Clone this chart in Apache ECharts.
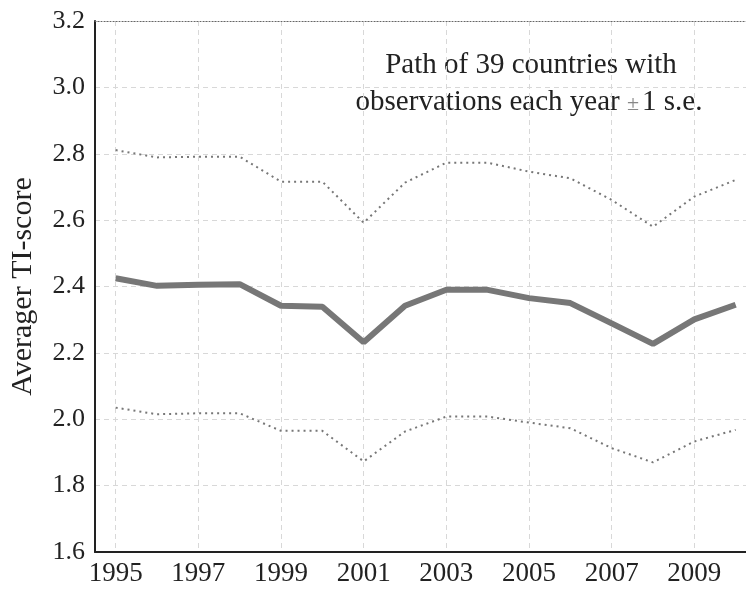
<!DOCTYPE html>
<html>
<head>
<meta charset="utf-8">
<script src="https://cdn.jsdelivr.net/npm/echarts@6/dist/echarts.min.js"></script>
<style>
  html, body { margin: 0; padding: 0; background: #fff; }
  #chart { width: 746px; height: 591px; }
</style>
</head>
<body>
<div id="chart"></div>
<script>
const years = [1995, 1996, 1997, 1998, 1999, 2000, 2001, 2002, 2003, 2004, 2005, 2006, 2007, 2008, 2009, 2010];
const meanScore = [2.425, 2.402, 2.405, 2.407, 2.342, 2.339, 2.232, 2.342, 2.390, 2.390, 2.365, 2.350, 2.289, 2.227, 2.301, 2.345];
const upperSE = [2.811, 2.789, 2.791, 2.791, 2.716, 2.716, 2.592, 2.713, 2.773, 2.773, 2.746, 2.726, 2.661, 2.580, 2.671, 2.721];
const lowerSE = [2.035, 2.015, 2.018, 2.018, 1.965, 1.965, 1.873, 1.963, 2.008, 2.008, 1.990, 1.973, 1.913, 1.870, 1.933, 1.968];
const labelYears = [1995, 1997, 1999, 2001, 2003, 2005, 2007, 2009];

const font = '"Liberation Serif", "Times New Roman", serif';
const toPairs = (vals) => years.map((y, i) => [y, vals[i]]);

const chart = echarts.init(document.getElementById('chart'));

const option = {
  animation: false,
  textStyle: { fontFamily: font },
  grid: { left: 95, right: 0, top: 21, bottom: 39 },
  xAxis: [
    {
      type: 'value',
      min: 1994.5,
      max: 2010.25,
      axisLine: { lineStyle: { color: '#222', width: 2 } },
      axisTick: { show: false, customValues: labelYears },
      axisLabel: {
        customValues: labelYears,
        color: '#222',
        fontSize: 27,
        fontFamily: font,
        margin: 8,
        formatter: (v) => String(v),
      },
      splitLine: { lineStyle: { color: '#d8d8d8', type: [5, 4], width: 1 } },
    },
    {
      // dotted frame on top
      type: 'value',
      position: 'top',
      min: 1994.5,
      max: 2010.25,
      axisLine: { show: true, lineStyle: { color: '#666', type: [1, 2], width: 1 } },
      axisTick: { show: false },
      axisLabel: { show: false },
      splitLine: { show: false },
    },
  ],
  yAxis: {
    type: 'value',
    min: 1.6,
    max: 3.2,
    interval: 0.2,
    name: 'Averager TI-score',
    nameLocation: 'middle',
    nameGap: 57,
    nameTextStyle: { fontSize: 30, color: '#222', fontFamily: font },
    axisLine: { show: true, lineStyle: { color: '#222', width: 2 } },
    axisTick: { show: false },
    axisLabel: {
      color: '#222',
      fontSize: 26,
      fontFamily: font,
      margin: 10,
      formatter: (v) => v.toFixed(1),
    },
    splitLine: { lineStyle: { color: '#d8d8d8', type: [5, 4], width: 1 } },
  },
  graphic: [
    {
      type: 'text',
      x: 531,
      y: 51,
      style: {
        text: 'Path of 39 countries with',
        fontFamily: font,
        fontSize: 29,
        fill: '#222',
        align: 'center',
      },
    },
    {
      type: 'text',
      x: 529,
      y: 88,
      style: {
        text: '{t|observations each year }{pm|±}{t|1 s.e.}',
        fontFamily: font,
        fill: '#222',
        align: 'center',
        rich: {
          t: { fontSize: 29, fontFamily: font, fill: '#222' },
          pm: { fontSize: 22, fontFamily: font, fill: '#888', padding: [4, 3, 0, 0] },
        },
      },
    },
  ],
  series: [
    {
      name: 'upper',
      type: 'line',
      data: toPairs(upperSE),
      symbol: 'none',
      lineStyle: { color: '#777', width: 2, type: [2, 4] },
    },
    {
      name: 'mean',
      type: 'line',
      data: toPairs(meanScore),
      symbol: 'none',
      lineStyle: { color: '#777', width: 6 },
    },
    {
      name: 'lower',
      type: 'line',
      data: toPairs(lowerSE),
      symbol: 'none',
      lineStyle: { color: '#777', width: 2, type: [2, 4] },
    },
  ],
};

chart.setOption(option);
</script>
</body>
</html>
